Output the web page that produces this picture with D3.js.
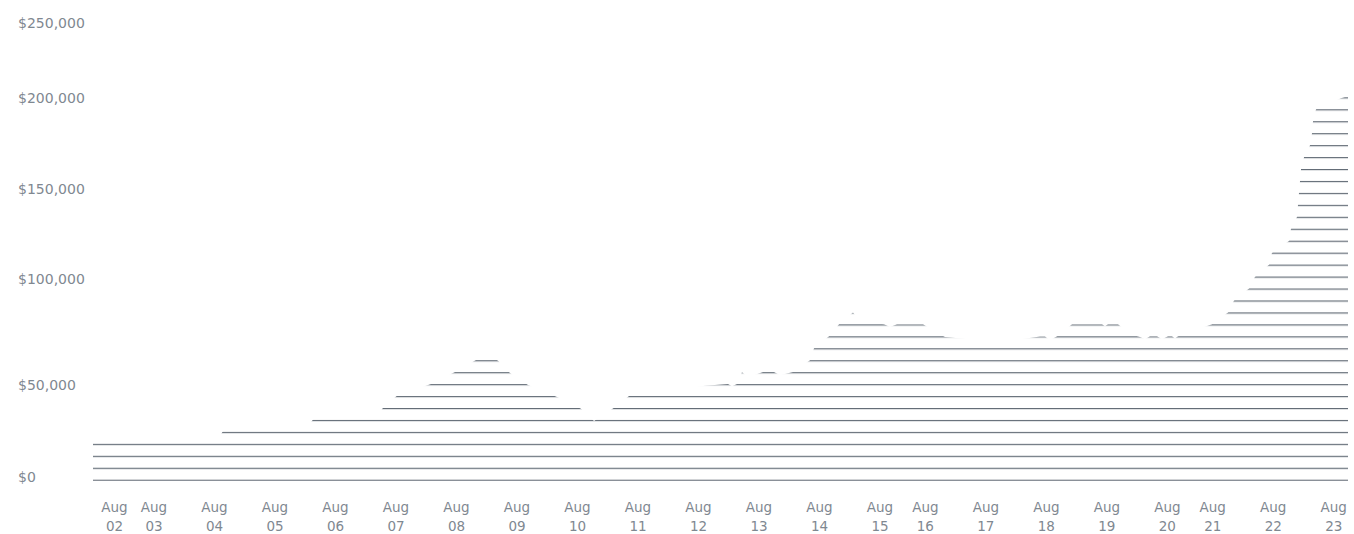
<!DOCTYPE html>
<html>
<head>
<meta charset="utf-8">
<script src="https://cdn.jsdelivr.net/npm/d3@7"></script>
<style>
  html, body { margin: 0; padding: 0; background: #ffffff; }
  svg { display: block; font-family: "DejaVu Sans", Verdana, sans-serif; }
</style>
</head>
<body>
<svg id="chart" width="1354" height="534"></svg>
<script>
// ---- data ----
const times = [
  "2023-08-02 00:00","2023-08-04 01:35","2023-08-04 04:00","2023-08-05 13:17","2023-08-05 15:40",
  "2023-08-06 17:04","2023-08-06 19:26","2023-08-07 00:36","2023-08-07 14:05","2023-08-07 23:36",
  "2023-08-08 07:56","2023-08-08 12:18","2023-08-08 16:40","2023-08-08 21:25","2023-08-09 04:34",
  "2023-08-09 16:04","2023-08-10 01:35","2023-08-10 06:45","2023-08-10 14:41","2023-08-10 20:38",
  "2023-08-11 12:53","2023-08-12 02:47","2023-08-12 11:54","2023-08-12 13:29","2023-08-12 15:28",
  "2023-08-12 17:27","2023-08-12 19:50","2023-08-13 01:47","2023-08-13 06:09","2023-08-13 08:32",
  "2023-08-13 13:41","2023-08-13 20:26","2023-08-13 22:01","2023-08-14 03:58","2023-08-14 07:56",
  "2023-08-14 13:29","2023-08-14 16:16","2023-08-15 01:47","2023-08-15 04:10","2023-08-15 06:56",
  "2023-08-15 17:16","2023-08-15 22:01","2023-08-16 01:59","2023-08-16 23:48","2023-08-17 15:40",
  "2023-08-17 17:39","2023-08-17 19:38","2023-08-17 22:25","2023-08-18 04:22","2023-08-18 16:16",
  "2023-08-18 17:27","2023-08-18 18:38","2023-08-18 22:37","2023-08-19 03:22","2023-08-19 07:20",
  "2023-08-19 09:19","2023-08-19 11:18","2023-08-19 14:05","2023-08-19 16:04","2023-08-19 18:27",
  "2023-08-19 20:02","2023-08-19 21:13","2023-08-19 22:25","2023-08-20 11:54","2023-08-20 18:15",
  "2023-08-20 20:38","2023-08-21 02:35","2023-08-21 04:58","2023-08-21 10:31","2023-08-21 11:42",
  "2023-08-21 18:27","2023-08-21 19:14","2023-08-21 21:37","2023-08-21 22:25","2023-08-21 22:49",
  "2023-08-21 23:13","2023-08-22 00:24","2023-08-22 02:47","2023-08-22 03:34","2023-08-22 03:58",
  "2023-08-22 05:10","2023-08-22 15:04","2023-08-22 17:51"
];
const values = [
  22000, 23000, 28000, 30000, 34000,
  36000, 40500, 46300, 52400, 58000,
  63700, 66500, 63300, 57500, 51900,
  45700, 39300, 32600, 39800, 46200,
  49000, 51500, 52400, 51300, 52300,
  57900, 55500, 58000, 58000, 56500,
  58000, 63600, 69200, 74900, 80500,
  86100, 82000, 80500, 79300, 80500,
  80500, 77000, 74500, 72000, 74800,
  74800, 73000, 74900, 80500, 80500,
  79600, 80500, 80500, 76000, 74500,
  73500, 74900, 74900, 73500, 74900,
  74900, 73800, 74900, 80500, 86100,
  91800, 97400, 103500, 110200, 116800,
  123400, 130100, 136700, 150200, 156600,
  163100, 169700, 176200, 182800, 189400,
  196000, 202500, 204000
];
const yTickValues = [0, 50000, 100000, 150000, 200000, 250000];
const xTickTimes = [
  "2023-08-02 08:20","2023-08-03 00:00","2023-08-04 00:00","2023-08-05 00:00","2023-08-06 00:00",
  "2023-08-07 00:00","2023-08-08 00:00","2023-08-09 00:00","2023-08-10 00:00","2023-08-11 00:00",
  "2023-08-12 00:00","2023-08-13 00:00","2023-08-14 00:00","2023-08-15 00:00","2023-08-15 18:00",
  "2023-08-16 18:00","2023-08-17 18:00","2023-08-18 18:00","2023-08-19 18:00","2023-08-20 12:00",
  "2023-08-21 12:00","2023-08-22 12:00"
];
const xTickMonth = "Aug";
const xTickDays = ["02","03","04","05","06","07","08","09","10","11","12","13","14","15","16","17","18","19","20","21","22","23"];

// ---- setup ----
const parse = d3.utcParse("%Y-%m-%d %H:%M");
const data = times.map((t, i) => ({ date: parse(t), value: values[i] }));

const svg = d3.select("#chart");
const x = d3.scaleUtc()
  .domain([data[0].date, data[data.length - 1].date])
  .range([93, 1348]);
const y = d3.scaleLinear()
  .domain(yTickValues)
  .range([481, 389, 283, 193, 102, 27]);

const textColor = "#7f8891";
const stripeColor = "#646d77";

// stripe pattern fill
const defs = svg.append("defs");
const pat = defs.append("pattern")
  .attr("id", "stripes")
  .attr("patternUnits", "userSpaceOnUse")
  .attr("x", 0).attr("y", 97.3)
  .attr("width", 20).attr("height", 11.95);
pat.append("rect")
  .attr("x", 0).attr("y", 0)
  .attr("width", 20).attr("height", 1.2)
  .attr("fill", stripeColor);

const area = d3.area()
  .x(d => x(d.date))
  .y0(y(0))
  .y1(d => y(d.value))
  .curve(d3.curveLinear);

svg.append("path")
  .datum(data)
  .attr("d", area)
  .attr("fill", "url(#stripes)");

// y axis labels
const yAxis = d3.axisLeft(y)
  .tickValues(yTickValues)
  .tickSize(0)
  .tickFormat(d => "$" + d3.format(",")(d));
const gy = svg.append("g").attr("transform", "translate(18,0)").call(yAxis);
gy.select(".domain").remove();
gy.selectAll("text")
  .attr("x", 0).attr("dy", 0)
  .attr("text-anchor", "start")
  .attr("fill", textColor)
  .style("font-family", '"DejaVu Sans", Verdana, sans-serif')
  .style("font-size", "14px");

// x axis labels
const xAxis = d3.axisBottom(x)
  .tickValues(xTickTimes.map(parse))
  .tickSize(0)
  .tickFormat("");
const gx = svg.append("g").call(xAxis);
gx.select(".domain").remove();
gx.selectAll(".tick text").remove();
gx.selectAll(".tick").each(function(d, i) {
  const t = d3.select(this).append("text")
    .attr("text-anchor", "middle")
    .attr("fill", textColor)
    .style("font-family", '"DejaVu Sans", Verdana, sans-serif')
    .style("font-size", "13.5px");
  t.append("tspan").attr("x", 0).attr("y", 511.5).text(xTickMonth);
  t.append("tspan").attr("x", 0).attr("y", 530.5).text(xTickDays[i]);
});
</script>
</body>
</html>
